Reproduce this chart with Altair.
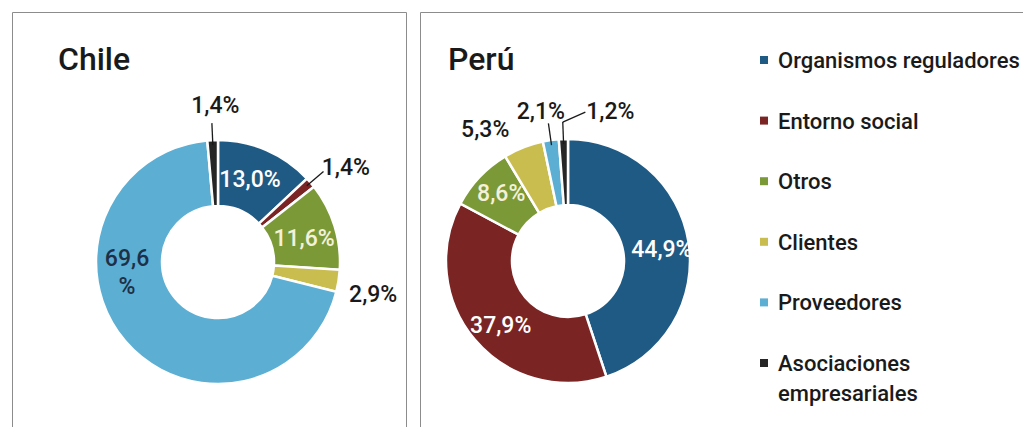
import altair as alt
import pandas as pd

# ---------------- data ----------------
categories = [
    "Organismos reguladores",
    "Entorno social",
    "Otros",
    "Clientes",
    "Proveedores",
    "Asociaciones empresariales",
]
chile_values = [13.0, 1.4, 11.6, 2.9, 69.6, 1.4]
peru_values = [44.9, 37.9, 8.6, 5.3, 2.1, 1.2]
chile_labels = ["13,0%", "1,4%", "11,6%", "2,9%", "69,6\n%", "1,4%"]
peru_labels = ["44,9%", "37,9%", "8,6%", "5,3%", "2,1%", "1,2%"]
legend_labels = [
    "Organismos reguladores",
    "Entorno social",
    "Otros",
    "Clientes",
    "Proveedores",
    "Asociaciones\nempresariales",
]

# ---------------- styles ----------------
colors = ["#1f5a85", "#7a2424", "#7b9a37", "#c9bd4f", "#5caed3", "#262626"]
inside_text = ["#ffffff", "#ffffff", "#f4f1da", "#ffffff", "#1d3047", "#ffffff"]
OUT_COL = "#1a1a1a"
FONT = "Roboto"

# label nudges (pixels) relative to the automatic polar placement
chile_dx = [-3, 14, 2, 7, -24, 4]
chile_dy = [-1, 4, 3, 10, -60, -6]
peru_dx = [7, 0, -3, -28, -6, 48]
peru_dy = [3, 8, -6, 9, 0, 1]

R_OUT, R_IN = 122, 56
R_LAB_IN, R_LAB_OUT = 88, 150
R_L1, R_L2 = 117, 139
H = 415

color_scale = alt.Scale(domain=categories, range=colors)


def panel(title, values, labels, dx, dy, W, cx, cy, title_x, extra_right):
    df = pd.DataFrame({
        "cat": categories,
        "value": values,
        "label": labels,
        "order": list(range(len(categories))),
        "dx": dx,
        "dy": dy,
        "tcol": inside_text,
    })
    base = alt.Chart(df)

    border = alt.Chart(pd.DataFrame({"k": [0]})).mark_rect(
        fillOpacity=0, stroke="#8c8c8c", strokeWidth=1, clip=True
    ).encode(
        x=alt.value(0.5), x2=alt.value(W - 0.5 + extra_right),
        y=alt.value(0.5), y2=alt.value(H + 30),
    )

    title_layer = alt.Chart(pd.DataFrame({"t": [title]})).mark_text(
        font=FONT, fontSize=32, fontWeight=500, align="left",
        baseline="alphabetic", color="#1a1a1a"
    ).encode(x=alt.value(title_x), y=alt.value(58), text="t:N")

    arcs = base.mark_arc(
        radius=R_OUT, radius2=R_IN, stroke="white", strokeWidth=2.5
    ).encode(
        theta=alt.Theta("value:Q", stack=True),
        order=alt.Order("order:Q"),
        color=alt.Color("cat:N", scale=color_scale, legend=None),
        x=alt.value(cx), y=alt.value(cy),
    )

    geo = base.transform_joinaggregate(
        total="sum(value)"
    ).transform_window(
        cum="sum(value)", sort=[alt.SortField("order")]
    ).transform_calculate(
        mid="2*PI*(datum.cum - datum.value/2)/datum.total"
    ).transform_calculate(
        r=f"datum.value >= 8 ? {R_LAB_IN} : {R_LAB_OUT}"
    ).transform_calculate(
        tx=f"{cx} + datum.r*sin(datum.mid) + datum.dx",
        ty=f"{cy} - datum.r*cos(datum.mid) + datum.dy",
        lx1=f"{cx} + {R_L1}*sin(datum.mid)",
        ly1=f"{cy} - {R_L1}*cos(datum.mid)",
        lx2=f"{cx} + {R_L2}*sin(datum.mid)",
        ly2=f"{cy} - {R_L2}*cos(datum.mid)",
        fc=f"datum.value >= 8 ? datum.tcol : '{OUT_COL}'",
    )

    leader = geo.transform_filter("datum.value < 2.5")
    lines = leader.mark_rule(color=OUT_COL, strokeWidth=1.3).encode(
        x=alt.X("lx1:Q", scale=None), y=alt.Y("ly1:Q", scale=None),
        x2="lx2:Q", y2="ly2:Q",
    )
    # elbow towards labels that were pushed sideways
    elbows = leader.transform_filter("datum.dx > 20").transform_calculate(
        ex="datum.tx - 25"
    ).mark_rule(color=OUT_COL, strokeWidth=1.3).encode(
        x=alt.X("lx2:Q", scale=None), y=alt.Y("ly2:Q", scale=None),
        x2="ex:Q", y2="ty:Q",
    )

    texts = geo.mark_text(
        font=FONT, fontSize=23, fontWeight=500, lineBreak="\n", lineHeight=28,
        align="center", baseline="middle"
    ).encode(
        x=alt.X("tx:Q", scale=None), y=alt.Y("ty:Q", scale=None),
        text="label:N", fill=alt.Fill("fc:N", scale=None),
    )

    return [border, title_layer, arcs, lines, elbows, texts]


chile = alt.layer(*panel("Chile", chile_values, chile_labels, chile_dx, chile_dy,
                         395, 206, 250, 46, 0)).properties(width=395, height=H)

peru_layers = panel("Perú", peru_values, peru_labels, peru_dx, peru_dy,
                    603, 148, 249, 28, 30)

leg_df = pd.DataFrame({"cat": categories, "name": legend_labels})
leg_y = alt.Y("cat:N", axis=None,
              scale=alt.Scale(type="point", domain=categories, range=[48, 351], padding=0))
leg_sq = alt.Chart(leg_df).mark_point(
    shape="square", filled=True, size=64, opacity=1
).encode(
    x=alt.value(344), y=leg_y,
    color=alt.Color("cat:N", scale=color_scale, legend=None),
)
leg_txt = alt.Chart(leg_df).mark_text(
    font=FONT, fontSize=22, fontWeight=500, align="left", baseline="alphabetic",
    dy=8, lineBreak="\n", lineHeight=30, color="#1a1a1a"
).encode(x=alt.value(358), y=leg_y, text="name:N")

peru = alt.layer(*peru_layers, leg_sq, leg_txt).resolve_scale(
    y="independent", x="independent"
).properties(width=603, height=H)

chart = alt.hconcat(chile, peru, spacing=13).properties(
    padding={"left": 4, "top": 4, "right": 0, "bottom": 0}
).configure_view(stroke=None)

chart.save("out.html", embed_options={"renderer": "svg", "actions": False})
